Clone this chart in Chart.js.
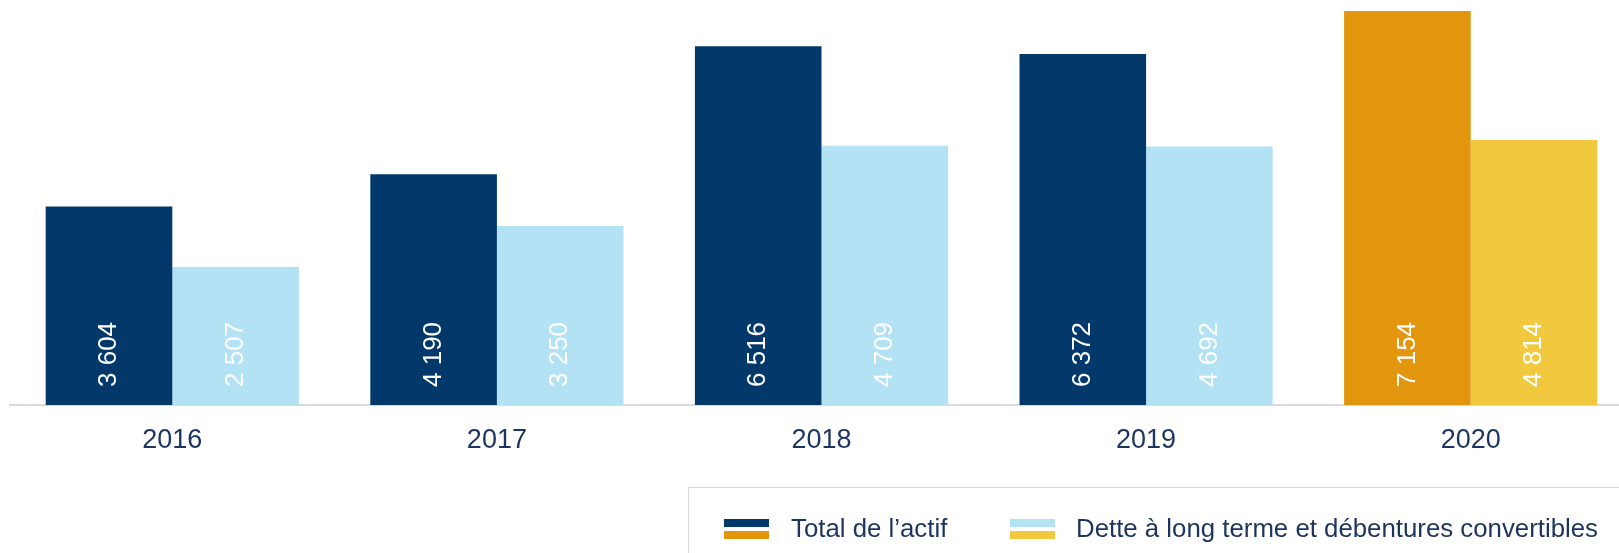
<!DOCTYPE html>
<html>
<head>
<meta charset="utf-8">
<script src="https://cdn.jsdelivr.net/npm/chart.js@4"></script>
<style>
  html, body { margin: 0; padding: 0; background: #fff; overflow: hidden; }
  #wrap { position: relative; width: 1633px; height: 553px; }
  #legend {
    position: absolute; left: 688px; top: 487px; width: 1000px; height: 100px;
    border: 1px solid #d9d9d9; box-sizing: border-box;
    font-family: "Liberation Sans", Arial, sans-serif; font-size: 25.8px; color: #1c355e;
  }
  .sw { position: absolute; width: 45px; height: 8px; }
  .lbl { position: absolute; top: 25px; white-space: nowrap; line-height: 30px; }
</style>
</head>
<body>
<div id="wrap">
  <canvas id="myChart" width="1633" height="553"></canvas>
  <div id="legend"></div>
</div>
<script>
const years = ['2016', '2017', '2018', '2019', '2020'];
const totalActif = [3604, 4190, 6516, 6372, 7154];
const detteLongTerme = [2507, 3250, 4709, 4692, 4814];
const seriesNames = ['Total de l\u2019actif', 'Dette \u00e0 long terme et d\u00e9bentures convertibles'];

const navy = '#02386a', orange = '#e2960e';
const lightBlue = '#b4e2f5', yellow = '#f2c93e';

// last year is highlighted in another colour
const colorsFor = (base, last) => years.map((y, i) => i === years.length - 1 ? last : base);

const fmt = v => String(v).replace(/\B(?=(\d{3})+(?!\d))/g, ' ');

const valueLabels = {
  id: 'valueLabels',
  afterDatasetsDraw(chart) {
    const ctx = chart.ctx;
    ctx.save();
    ctx.font = '26px "Liberation Sans", Arial, sans-serif';
    ctx.fillStyle = '#ffffff';
    ctx.textAlign = 'left';
    ctx.textBaseline = 'middle';
    chart.data.datasets.forEach((ds, di) => {
      chart.getDatasetMeta(di).data.forEach((bar, i) => {
        ctx.save();
        ctx.translate(bar.x, bar.base - 18);
        ctx.rotate(-Math.PI / 2);
        ctx.fillText(fmt(ds.data[i]), 0, 0);
        ctx.restore();
      });
    });
    ctx.restore();
  }
};

const data = {
  labels: years,
  datasets: [
    {
      label: seriesNames[0],
      data: totalActif,
      backgroundColor: colorsFor(navy, orange),
      barPercentage: 1.0,
      categoryPercentage: 0.78
    },
    {
      label: seriesNames[1],
      data: detteLongTerme,
      backgroundColor: colorsFor(lightBlue, yellow),
      barPercentage: 1.0,
      categoryPercentage: 0.78
    }
  ]
};

const config = {
  type: 'bar',
  data: data,
  plugins: [valueLabels],
  options: {
    responsive: false,
    animation: false,
    layout: { padding: { left: 10, right: 0, top: 0, bottom: 0 } },
    plugins: { legend: { display: false }, tooltip: { enabled: false } },
    scales: {
      x: {
        grid: { display: false, drawTicks: false },
        border: { display: true, color: '#dadada', width: 2 },
        ticks: {
          padding: 19,
          color: '#1c355e',
          font: { family: '"Liberation Sans", Arial, sans-serif', size: 27 }
        },
        afterFit(scale) { scale.height = 148; }
      },
      y: {
        display: false,
        min: 0,
        max: 7354
      }
    }
  }
};

const myChart = new Chart(document.getElementById('myChart'), config);

// legend with split swatches (regular colour on top, highlight colour below)
const legend = document.getElementById('legend');
const legendItems = [
  { name: seriesNames[0], top: navy, bottom: orange, x: 35, tx: 102 },
  { name: seriesNames[1], top: lightBlue, bottom: yellow, x: 321, tx: 387 }
];
legendItems.forEach(it => {
  legend.innerHTML +=
    '<div class="sw" style="left:' + it.x + 'px;top:31px;background:' + it.top + '"></div>' +
    '<div class="sw" style="left:' + it.x + 'px;top:43px;background:' + it.bottom + '"></div>' +
    '<div class="lbl" style="left:' + it.tx + 'px">' + it.name + '</div>';
});
</script>
</body>
</html>
